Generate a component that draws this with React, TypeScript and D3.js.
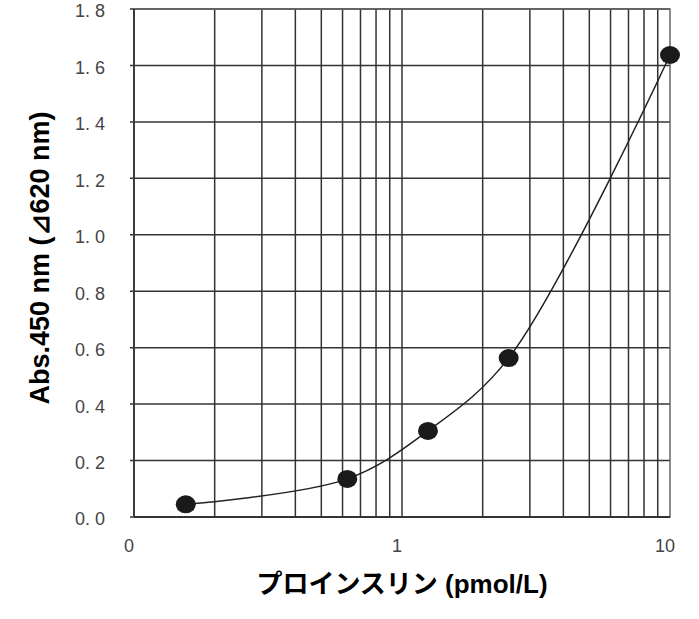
import React from "react";
import * as d3 from "d3";

const concentrations = [0.156, 0.625, 1.25, 2.5, 10];
const absorbances = [0.045, 0.135, 0.305, 0.563, 1.637];
const yTicks = [0, 0.2, 0.4, 0.6, 0.8, 1.0, 1.2, 1.4, 1.6, 1.8];
const xGrid = [0.2, 0.3, 0.4, 0.5, 0.6, 0.7, 0.8, 0.9, 1, 2, 3, 4, 5, 6, 7, 8, 9];
const xTickValues = [0.1, 1, 10];
const xTickLabels = ["0", "1", "10"];
const xTitle = "プロインスリン (pmol/L)";
const yTitle = "Abs.450 nm (⊿620 nm)";

export default function App() {
  const W = 699, H = 619;
  const left = 134, right = 670, top = 9, bottom = 517;
  const x = d3.scaleLog().domain([0.1, 10]).range([left, right]);
  const y = d3.scaleLinear().domain([0, 1.8]).range([bottom, top]);
  const pts: [number, number][] = concentrations.map((c, i) => [x(c), y(absorbances[i])]);
  const line = d3.line().curve(d3.curveCatmullRom.alpha(0.5))(pts) || "";
  const fmt = (v: number) => v.toFixed(1).replace(".", ". ");
  return (
    <svg width={W} height={H} style={{ position: "absolute", left: 0, top: 0, background: "#fff" }}>
      {yTicks.map((t) => (
        <g key={"y" + t}>
          <line x1={left - 4} x2={right} y1={y(t)} y2={y(t)} stroke="#333" strokeWidth={1.5} />
          <text x={105} y={y(t) + 2} dy="0.36em" textAnchor="end" fontFamily="Liberation Sans, Arial, sans-serif" fontSize={18} fill="#444">
            {fmt(t)}
          </text>
        </g>
      ))}
      {xGrid.map((g) => (
        <line key={"x" + g} x1={x(g)} x2={x(g)} y1={top} y2={bottom} stroke="#333" strokeWidth={1.5} />
      ))}
      <rect x={left} y={top} width={right - left} height={bottom - top} fill="none" stroke="#666" strokeWidth={1.5} />
      <line x1={left} x2={left} y1={top} y2={bottom} stroke="#333" strokeWidth={1.8} />
      <line x1={left} x2={right} y1={bottom} y2={bottom} stroke="#333" strokeWidth={1.8} />
      {xTickValues.map((v, i) => (
        <text key={"xl" + v} x={x(v) - 5} y={552} textAnchor="middle" fontFamily="Liberation Sans, Arial, sans-serif" fontSize={18} fill="#444">
          {xTickLabels[i]}
        </text>
      ))}
      <path d={line} fill="none" stroke="#222" strokeWidth={1.5} />
      {pts.map((p, i) => (
        <ellipse key={"p" + i} cx={p[0]} cy={p[1]} rx={10} ry={9} fill="#1a1a1a" />
      ))}
      <text x={402} y={593} textAnchor="middle" fontFamily="Liberation Sans, Noto Sans CJK JP, sans-serif" fontWeight="bold" fontSize={26} fill="#000">
        {xTitle}
      </text>
      <text transform={`translate(49, 258) rotate(-90)`} textAnchor="middle" fontFamily="Liberation Sans, Arial, sans-serif" fontWeight="bold" fontSize={27} fill="#000">
        {yTitle}
      </text>
    </svg>
  );
}
